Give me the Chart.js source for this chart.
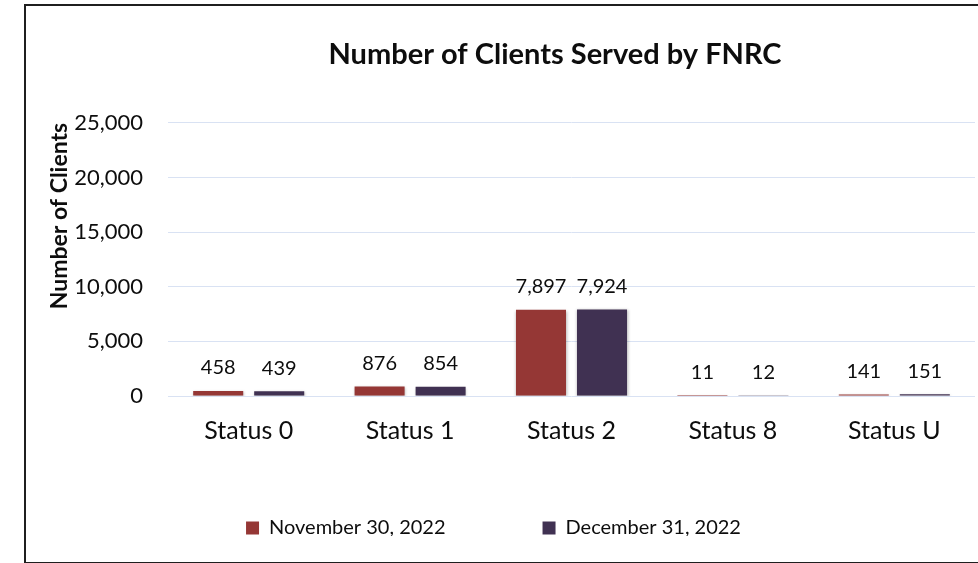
<!DOCTYPE html>
<html><head><meta charset="utf-8">
<script src="https://cdn.jsdelivr.net/npm/chart.js@4.4.0/dist/chart.umd.min.js"></script>
<style>
html,body{margin:0;padding:0;background:#fff;overflow:hidden;}
#wrap{position:relative;width:978px;height:563px;overflow:hidden;}
#frame{position:absolute;left:24px;top:4px;width:1000px;height:556px;border:2px solid #1f1f1f;border-right:none;pointer-events:none;}
canvas{position:absolute;left:0;top:0;}
</style></head><body>
<div id="wrap"><canvas id="c" width="978" height="563"></canvas><div id="frame"></div></div>
<script>
const chartTitle = 'Number of Clients Served by FNRC';
const yAxisTitle = 'Number of Clients';
const categories = ['Status 0', 'Status 1', 'Status 2', 'Status 8', 'Status U'];
const seriesNames = ['November 30, 2022', 'December 31, 2022'];
const nov2022 = [458, 876, 7897, 11, 141];
const dec2022 = [439, 854, 7924, 12, 151];
const yTicks = [0, 5000, 10000, 15000, 20000, 25000];
const seriesColors = ['#953735', '#403152'];

const FONT = 'Lato';
const TEXT = '#0d0d0d';

// Moves the title and legend boxes after Chart.js has laid them out.
const boxPlacement = {
  id: 'boxPlacement',
  afterLayout(chart, args, opts) {
    const t = chart.titleBlock;
    if (t) {
      const w = t.right - t.left;
      t.left = opts.titleCenterX - w / 2;
      t.right = opts.titleCenterX + w / 2;
    }
    const lg = chart.legend;
    if (lg) {
      const h = lg.bottom - lg.top;
      lg.top = opts.legendTop;
      lg.bottom = opts.legendTop + h;
    }
  }
};

const barShadow = {
  id: 'barShadow',
  beforeDatasetsDraw(chart) {
    const ctx = chart.ctx;
    ctx.save();
    ctx.shadowColor = 'rgba(0,0,0,0.28)';
    ctx.shadowBlur = 3;
    ctx.shadowOffsetX = 0.5;
    ctx.shadowOffsetY = 1;
  },
  afterDatasetsDraw(chart) {
    chart.ctx.restore();
  }
};

const valueLabels = {
  id: 'valueLabels',
  afterDatasetsDraw(chart, args, opts) {
    const ctx = chart.ctx;
    ctx.save();
    ctx.font = opts.size + 'px ' + FONT;
    ctx.fillStyle = TEXT;
    ctx.textAlign = 'center';
    ctx.textBaseline = 'middle';
    chart.data.datasets.forEach((ds, i) => {
      const meta = chart.getDatasetMeta(i);
      meta.data.forEach((el, j) => {
        ctx.fillText(ds.data[j].toLocaleString('en-US'), el.x, el.y - opts.offset);
      });
    });
    ctx.restore();
  }
};

function draw() {
  new Chart(document.getElementById('c'), {
    type: 'bar',
    data: {
      labels: categories,
      datasets: [
        { label: seriesNames[0], data: nov2022, backgroundColor: seriesColors[0] },
        { label: seriesNames[1], data: dec2022, backgroundColor: seriesColors[1] }
      ]
    },
    options: {
      responsive: false,
      animation: false,
      devicePixelRatio: 1,
      datasets: { bar: { categoryPercentage: 0.756, barPercentage: 0.82 } },
      layout: { padding: { left: 12, right: 3, top: 0, bottom: 0 } },
      scales: {
        x: {
          grid: { display: false, drawTicks: false },
          border: { display: false },
          ticks: { font: { family: FONT, size: 25 }, color: TEXT, padding: 20 },
          afterFit(s) { s.height = 52; }
        },
        y: {
          min: 0, max: 25000,
          afterBuildTicks(s) { s.ticks = yTicks.map(v => ({ value: v })); },
          grid: { color: '#d9e2f3', lineWidth: 1, drawTicks: false },
          border: { display: false },
          ticks: { padding: 25, font: { family: FONT, size: 22 }, color: TEXT },
          title: {
            display: true, text: yAxisTitle, align: 'end',
            font: { family: FONT, size: 23, weight: 'bold' }, color: TEXT,
            padding: { top: 34, bottom: 0 }
          },
          afterFit(s) { s.width = 156; }
        }
      },
      plugins: {
        title: {
          display: true, text: chartTitle, color: TEXT,
          font: { family: FONT, size: 29, weight: 'bold' },
          padding: { top: 37, bottom: 51 }
        },
        boxPlacement: { titleCenterX: 555, legendTop: 421 },
        valueLabels: { size: 20, offset: 23 },
        legend: {
          position: 'bottom',
          maxHeight: 115,
          labels: {
            boxWidth: 13, boxHeight: 13, padding: 97,
            font: { family: FONT, size: 20 }, color: TEXT
          }
        },
        tooltip: { enabled: false }
      }
    },
    plugins: [boxPlacement, barShadow, valueLabels]
  });
}
Promise.all([
  document.fonts.load('20px Lato'),
  document.fonts.load('bold 20px Lato')
]).then(draw, draw);
</script>
</body></html>
